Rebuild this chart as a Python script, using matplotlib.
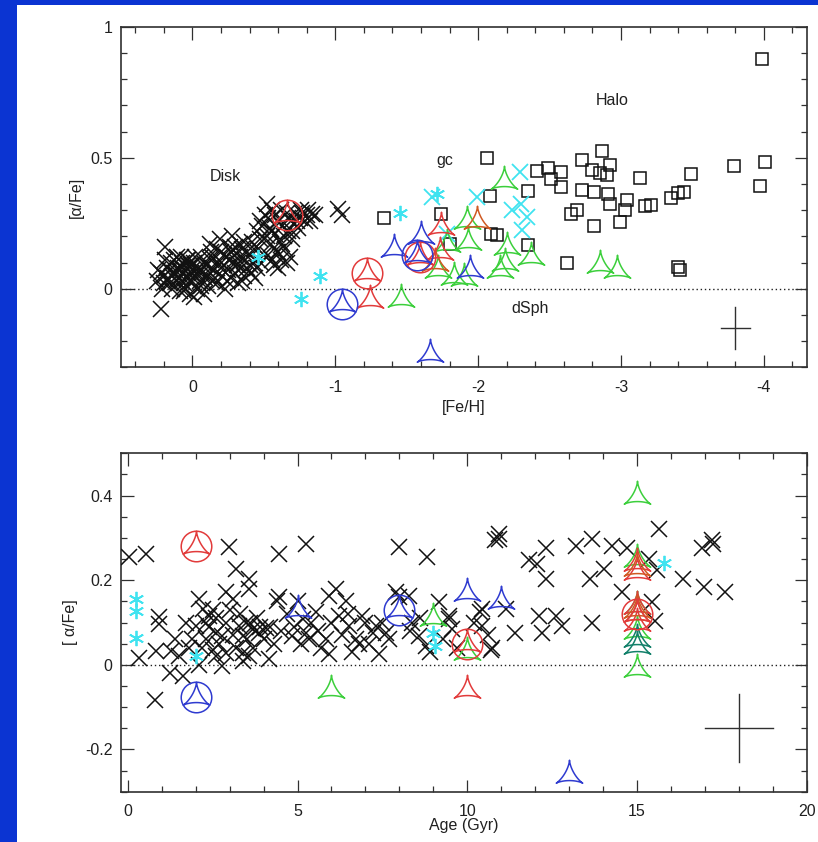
import numpy as np
import matplotlib
matplotlib.use("Agg")
import matplotlib.pyplot as plt
from matplotlib.path import Path
from matplotlib.patches import Rectangle
from matplotlib.ticker import MultipleLocator, FixedLocator, FixedFormatter

plt.rcParams["font.family"] = ["Liberation Sans", "DejaVu Sans"]
plt.rcParams["axes.unicode_minus"] = False

# ---------------- [Fe/H] panel data ----------------
disk_feh = [0.25, 0.22, 0.20, 0.18, 0.17, 0.15, 0.14, 0.12, 0.11, 0.10, 0.09, 0.08, 0.07, 0.06,
            0.05, 0.04, 0.03, 0.02, 0.01, 0.00, -0.01, -0.02, -0.03, -0.04, -0.05, -0.06, -0.07,
            -0.08, -0.09, -0.10, -0.11, -0.12, -0.13, -0.14, 0.13, 0.16, 0.05, -0.01, 0.08, 0.03,
            0.20, 0.10, -0.05, 0.00, 0.07, 0.217, 0.194,
            0.24, 0.21, 0.19, 0.16, 0.13, 0.11, 0.09, 0.06, 0.04, 0.02, -0.03, -0.06, -0.08,
            -0.11, -0.13, 0.14, 0.07, 0.01, -0.02, 0.18,
            -0.12, -0.14, -0.15, -0.17, -0.18, -0.20, -0.21, -0.22, -0.23, -0.24, -0.25, -0.26,
            -0.27, -0.28, -0.29, -0.30, -0.31, -0.32, -0.33, -0.34, -0.35, -0.36, -0.37, -0.38,
            -0.40, -0.41, -0.42, -0.43, -0.44, -0.19, -0.28, -0.33, -0.16, -0.22,
            -0.13, -0.17, -0.20, -0.24, -0.26, -0.30, -0.32, -0.35, -0.38, -0.40, -0.43, -0.36,
            -0.27,
            -0.45, -0.46, -0.47, -0.48, -0.50, -0.51, -0.52, -0.53, -0.54, -0.55, -0.56, -0.57,
            -0.58, -0.59, -0.60, -0.61, -0.62, -0.63, -0.64, -0.65, -0.66, -0.67, -0.68, -0.69,
            -0.70, -0.71, -0.72, -0.74, -0.75, -0.77, -0.79, -0.81, -0.84, -0.86, -0.52, -0.49,
            -0.60, -0.66, -1.02, -1.05,
            -0.47, -0.50, -0.53, -0.55, -0.58, -0.60, -0.62, -0.63, -0.67, -0.70, -0.73, -0.76,
            -0.80, -0.82, -0.45, -0.56]
disk_afe = [0.03, 0.06, 0.02, 0.08, 0.04, 0.10, 0.00, 0.06, 0.03, 0.08, -0.01, 0.05, 0.10, 0.02,
            0.07, 0.04, 0.09, -0.02, 0.06, 0.03, 0.10, 0.05, 0.00, 0.08, 0.03, 0.12, 0.06,
            -0.02, 0.04, 0.09, 0.01, 0.06, 0.11, 0.03, 0.11, 0.07, 0.00, -0.03, 0.12, 0.11,
            0.05, 0.04, 0.07, 0.07, 0.03, -0.076, 0.16,
            0.07, 0.00, 0.11, 0.02, 0.06, 0.12, 0.07, -0.01, 0.11, 0.03, 0.06, 0.01, 0.10,
            0.05, 0.08, 0.05, 0.08, 0.09, 0.12, 0.03,
            0.17, 0.12, 0.07, 0.02, 0.10, 0.14, 0.05, 0.09, 0.00, 0.12, 0.07, 0.16,
            0.04, 0.10, 0.13, 0.06, 0.09, 0.02, 0.12, 0.08, 0.15, 0.05, 0.11, 0.08,
            0.13, 0.06, 0.18, 0.10, 0.04, 0.19, 0.20, 0.17, 0.04, 0.13,
            0.14, 0.15, 0.08, 0.03, 0.11, 0.16, 0.10, 0.03, 0.14, 0.09, 0.15, 0.18,
            0.14,
            0.22, 0.15, 0.26, 0.10, 0.19, 0.28, 0.325, 0.13, 0.23, 0.17, 0.30, 0.09,
            0.21, 0.14, 0.26, 0.18, 0.11, 0.24, 0.20, 0.15, 0.29, 0.22, 0.12, 0.26,
            0.19, 0.25, 0.29, 0.23, 0.27, 0.29, 0.26, 0.30, 0.287, 0.28, 0.20, 0.24,
            0.08, 0.10, 0.306, 0.28,
            0.19, 0.13, 0.27, 0.22, 0.28, 0.14, 0.30, 0.17, 0.27, 0.22, 0.26, 0.30,
            0.28, 0.26, 0.08, 0.11]

halo_feh = [-1.34, -1.74, -1.80, -2.06, -2.08, -2.09, -2.13, -2.35, -2.35, -2.41, -2.49, -2.51,
            -2.58, -2.58, -2.62, -2.65, -2.69, -2.73, -2.73, -2.80, -2.81, -2.81, -2.85, -2.87,
            -2.90, -2.91, -2.92, -2.92, -2.99, -3.03, -3.04, -3.13, -3.17, -3.21, -3.35, -3.40,
            -3.44, -3.49, -3.40, -3.41, -3.79, -3.97, -4.01, -3.99]
halo_afe = [0.268, 0.287, 0.172, 0.497, 0.353, 0.21, 0.204, 0.373, 0.166, 0.448, 0.459, 0.42,
            0.446, 0.39, 0.10, 0.287, 0.30, 0.493, 0.376, 0.452, 0.24, 0.37, 0.44, 0.526,
            0.433, 0.363, 0.471, 0.325, 0.253, 0.30, 0.338, 0.423, 0.316, 0.319, 0.348, 0.366,
            0.368, 0.437, 0.083, 0.07, 0.469, 0.391, 0.484, 0.875]

cyan_ast_feh = [-0.46, -0.89, -0.76, -1.45, -1.71]
cyan_ast_afe = [0.12, 0.05, -0.04, 0.29, 0.36]
cyan_x_feh = [-1.68, -1.99, -2.29, -2.24, -2.30, -2.34, -2.31, -1.78]
cyan_x_afe = [0.35, 0.35, 0.446, 0.30, 0.325, 0.274, 0.223, 0.21]

green_feh = [-1.46, -1.72, -1.83, -1.78, -1.93, -1.92, -2.18, -2.15, -2.20, -2.19, -2.37,
             -2.85, -2.97, -1.90]
green_afe = [-0.04, 0.07, 0.045, 0.17, 0.18, 0.26, 0.41, 0.07, 0.16, 0.10, 0.12,
             0.09, 0.07, 0.04]
red_feh = [-1.24, -1.74, -1.735]
red_afe = [-0.045, 0.236, 0.14]
orange_feh = [-1.70, -1.99]
orange_afe = [0.10, 0.26]
red_circ_feh = [-0.66, -1.22, -1.59]
red_circ_afe = [0.28, 0.06, 0.12]
blue_circ_feh = [-1.05, -1.57]
blue_circ_afe = [-0.06, 0.13]
blue_feh = [-1.41, -1.60, -1.94, -1.66]
blue_afe = [0.15, 0.20, 0.07, -0.25]

# ---------------- Age panel data ----------------
disk_age = [0.05, 0.54, 0.79, 0.93, 0.93, 0.34, 0.83, 1.28, 1.23, 1.62, 1.52, 2.99, 3.19, 3.58,
            3.58, 2.89, 3.09, 2.11, 2.21, 2.40, 1.72, 2.01, 2.60, 2.79, 2.31, 2.50, 2.89, 2.79,
            3.29, 3.48, 3.68, 3.38, 3.38, 3.58, 3.87, 4.07, 4.17, 4.46, 5.25, 4.46, 5.15, 4.85,
            5.34, 5.25, 5.54, 5.93, 6.13, 6.42, 6.23, 5.84, 5.93, 6.52, 6.72, 6.91, 6.81, 7.21,
            7.31, 7.40, 7.60, 7.99, 8.82, 7.89, 8.29, 8.38, 8.58, 8.78, 9.17, 9.46, 9.56, 10.44,
            10.74, 10.83, 10.93, 11.81, 12.06, 12.31, 12.31, 13.19, 13.68, 14.26, 14.71, 13.63,
            14.02, 15.64, 15.34, 15.59, 16.37, 16.96, 17.60, 16.91, 17.20, 17.25, 14.56, 15.44,
            15.54, 10.39, 10.44, 11.13, 11.42, 12.11, 12.60, 12.20, 12.79, 13.68, 10.69, 9.46,
            10.95,
            1.90, 2.20, 2.40, 2.60, 2.70, 2.90, 3.00, 3.10, 3.20, 3.30, 3.50, 3.60, 3.70, 3.80,
            4.00, 4.20, 4.30, 4.50, 2.50, 2.30, 3.90, 1.80, 2.10, 2.60, 3.40, 1.40,
            4.90, 5.10, 5.40, 5.60, 5.70, 6.00, 6.30, 6.50, 6.60, 7.00, 7.10, 7.50, 7.70, 8.00,
            8.30, 8.60, 8.90, 9.30, 9.70, 10.20, 10.60, 4.40, 4.70, 5.00]
disk_afe2 = [0.255, 0.263, -0.083, 0.112, 0.096, 0.017, 0.032, 0.032, -0.019, -0.027, 0.02, 0.279,
             0.227, 0.203, 0.179, 0.171, 0.155, 0.155, 0.132, 0.116, 0.10, 0.092, 0.076, 0.068,
             0.06, 0.036, 0.029, -0.003, 0.092, 0.10, 0.084, 0.068, 0.029, 0.02, 0.076, 0.088,
             0.013, 0.263, 0.286, 0.16, 0.108, 0.068, 0.06, 0.076, 0.124, 0.163, 0.179, 0.151,
             0.116, 0.06, 0.025, 0.092, 0.06, 0.116, 0.048, 0.076, 0.092, 0.025, 0.076, 0.279,
             0.255, 0.171, 0.163, 0.10, 0.068, 0.044, 0.148, 0.116, 0.084, 0.132, 0.04, 0.294,
             0.298, 0.247, 0.239, 0.275, 0.203, 0.282, 0.298, 0.282, 0.275, 0.203, 0.227, 0.322,
             0.251, 0.223, 0.203, 0.183, 0.171, 0.275, 0.294, 0.285, 0.171, 0.148, 0.104, 0.124,
             0.092, 0.132, 0.076, 0.116, 0.116, 0.076, 0.092, 0.10, 0.036, 0.108, 0.31,
             0.06, 0.04, 0.09, 0.11, 0.05, 0.10, 0.13, 0.07, 0.04, 0.12, 0.06, 0.10, 0.04, 0.11,
             0.06, 0.09, 0.05, 0.08, 0.13, 0.10, 0.09, 0.04, 0.00, 0.02, 0.01, 0.06,
             0.09, 0.05, 0.10, 0.08, 0.04, 0.10, 0.07, 0.12, 0.03, 0.10, 0.05, 0.10, 0.06, 0.16,
             0.08, 0.11, 0.03, 0.06, 0.04, 0.10, 0.07, 0.15, 0.12, 0.15]

cyan_age = [0.25, 0.25, 0.25, 2.0, 9.0, 9.05, 15.8]
cyan_afe2 = [0.155, 0.128, 0.064, 0.02, 0.076, 0.044, 0.24]
green_age = [6, 9, 10, 15, 15, 15, 15, 15]
green_afe2 = [-0.06, 0.11, 0.03, 0.40, -0.01, 0.08, 0.14, 0.25]
red_age = [10, 15, 15, 15, 15]
red_afe2 = [-0.06, 0.22, 0.24, 0.10, 0.14]
orange_age = [15, 15, 15]
orange_afe2 = [0.23, 0.12, 0.13]
teal_age = [15, 15]
teal_afe2 = [0.06, 0.045]
red_circ_age = [2, 10, 15]
red_circ_afe2 = [0.28, 0.05, 0.12]
blue_circ_age = [2, 8]
blue_circ_afe2 = [-0.075, 0.13]
blue_age = [5, 10, 11, 13]
blue_afe2 = [0.13, 0.17, 0.15, -0.26]

# typical error bars (centre, half-widths)
err_feh = (-3.8, -0.15, 0.1, 0.08)
err_age = (18.0, -0.15, 1.0, 0.08)

# ---------------- styles ----------------
C_GREEN = "#3ccf3c"
C_RED = "#e23b3b"
C_ORANGE = "#cf5a22"
C_BLUE = "#2f3bd0"
C_TEAL = "#12806a"
C_CYAN = "#3fe3f0"
C_BG = "#0b34d2"
FS = 11.5

t = np.linspace(0, 2 * np.pi, 181)
dx = 2 * np.cos(t) + np.cos(2 * t)
dy = 2 * np.sin(t) - np.sin(2 * t)
rot = np.pi / 2
vx = dx * np.cos(rot) - dy * np.sin(rot)
vy = dx * np.sin(rot) + dy * np.cos(rot)
DELTOID = Path(np.column_stack([vx, vy]), closed=True)

MS_TRI = 22
MS_X = 11
MS_SQ = 8.5


def pts(ax, x, y, marker, color, ms, lw=1.0):
    ax.plot(x, y, linestyle="none", marker=marker, ms=ms, mfc="none",
            mec=color, mew=lw, zorder=3)


def circled(ax, x, y, color):
    pts(ax, x, y, "o", color, MS_TRI, 1.1)
    pts(ax, x, y, DELTOID, color, MS_TRI, 1.1)


def style_axes(ax):
    for s in ax.spines.values():
        s.set_linewidth(1.2)
        s.set_color("#303030")
    ax.tick_params(which="both", direction="in", top=True, right=True,
                   colors="#303030", labelcolor="#202020", labelsize=FS)
    ax.tick_params(which="major", length=9, width=0.9)
    ax.tick_params(which="minor", length=4.5, width=0.9)
    ax.tick_params(axis="x", which="major", pad=9)
    ax.tick_params(axis="y", which="major", pad=6)
    ax.axhline(0, color="#202020", lw=1.0, ls=(0, (1, 2)), zorder=1)


def cross(ax, spec):
    cx, cy, hx, hy = spec
    ax.plot([cx - hx, cx + hx], [cy, cy], color="#303030", lw=1.0)
    ax.plot([cx, cx], [cy - hy, cy + hy], color="#303030", lw=1.0)


fig = plt.figure(figsize=(8.18, 8.42), dpi=100)
fig.patch.set_facecolor(C_BG)
panel = Rectangle((17 / 818, 0), 1, 1 - 5 / 842, transform=fig.transFigure,
                  facecolor="white", edgecolor="none", zorder=-10)
fig.add_artist(panel)

# ---------------- top panel ----------------
ax1 = fig.add_axes([121 / 818, 1 - 367.3 / 842, (806.7 - 121) / 818, (367.3 - 26.7) / 842])
ax1.set_zorder(2)
ax1.set_facecolor("white")
pts(ax1, disk_feh, disk_afe, "x", "#111111", MS_X, 1.1)
pts(ax1, halo_feh, halo_afe, "s", "#111111", MS_SQ, 1.1)
pts(ax1, cyan_ast_feh, cyan_ast_afe, (6, 2, 0), C_CYAN, 11, 1.3)
pts(ax1, cyan_x_feh, cyan_x_afe, "x", C_CYAN, MS_X, 1.3)
pts(ax1, green_feh, green_afe, DELTOID, C_GREEN, MS_TRI, 1.1)
pts(ax1, orange_feh, orange_afe, DELTOID, C_ORANGE, MS_TRI, 1.1)
pts(ax1, red_feh, red_afe, DELTOID, C_RED, MS_TRI, 1.1)
pts(ax1, blue_feh, blue_afe, DELTOID, C_BLUE, MS_TRI, 1.1)
circled(ax1, red_circ_feh, red_circ_afe, C_RED)
circled(ax1, blue_circ_feh, blue_circ_afe, C_BLUE)
cross(ax1, err_feh)
style_axes(ax1)
ax1.set_xlim(0.5, -4.3)
ax1.set_ylim(-0.3, 1.0)
ax1.xaxis.set_major_locator(FixedLocator([0, -1, -2, -3, -4]))
ax1.xaxis.set_major_formatter(FixedFormatter(["0", "-1", "-2", "-3", "-4"]))
ax1.xaxis.set_minor_locator(MultipleLocator(0.2))
ax1.yaxis.set_major_locator(FixedLocator([0, 0.5, 1.0]))
ax1.yaxis.set_major_formatter(FixedFormatter(["0", "0.5", "1"]))
ax1.yaxis.set_minor_locator(MultipleLocator(0.1))
ax1.set_xlabel("[Fe/H]", fontsize=FS, color="#202020", labelpad=4)
ax1.set_ylabel("[α/Fe]", fontsize=FS, color="#202020", labelpad=5)
for txt, x, y in [("Disk", -0.23, 0.43), ("gc", -1.77, 0.49), ("Halo", -2.94, 0.72),
                  ("dSph", -2.36, -0.075)]:
    ax1.text(x, y, txt, fontsize=FS, color="#202020", ha="center", va="center")

# ---------------- bottom panel ----------------
ax2 = fig.add_axes([121 / 818, 1 - 791.7 / 842, (806.7 - 121) / 818, (791.7 - 453.3) / 842])
ax2.set_zorder(2)
ax2.set_facecolor("white")
pts(ax2, disk_age, disk_afe2, "x", "#111111", MS_X, 1.1)
pts(ax2, cyan_age, cyan_afe2, (6, 2, 0), C_CYAN, 11, 1.3)
pts(ax2, green_age, green_afe2, DELTOID, C_GREEN, MS_TRI, 1.1)
pts(ax2, red_age, red_afe2, DELTOID, C_RED, MS_TRI, 1.1)
pts(ax2, orange_age, orange_afe2, DELTOID, C_ORANGE, MS_TRI, 1.1)
pts(ax2, teal_age, teal_afe2, DELTOID, C_TEAL, MS_TRI, 1.1)
pts(ax2, blue_age, blue_afe2, DELTOID, C_BLUE, MS_TRI, 1.1)
circled(ax2, red_circ_age, red_circ_afe2, C_RED)
circled(ax2, blue_circ_age, blue_circ_afe2, C_BLUE)
cross(ax2, err_age)
style_axes(ax2)
ax2.set_xlim(-0.2, 20)
ax2.set_ylim(-0.3, 0.5)
ax2.xaxis.set_major_locator(MultipleLocator(5))
ax2.xaxis.set_minor_locator(MultipleLocator(1))
ax2.yaxis.set_major_locator(FixedLocator([-0.2, 0, 0.2, 0.4]))
ax2.yaxis.set_major_formatter(FixedFormatter(["-0.2", "0", "0.2", "0.4"]))
ax2.yaxis.set_minor_locator(MultipleLocator(0.05))
ax2.set_xlabel("Age (Gyr)", fontsize=FS, color="#202020", labelpad=-1)
ax2.set_ylabel("[ α/Fe]", fontsize=FS, color="#202020", labelpad=5)

fig.savefig("out.png", dpi=100, facecolor=fig.get_facecolor())
